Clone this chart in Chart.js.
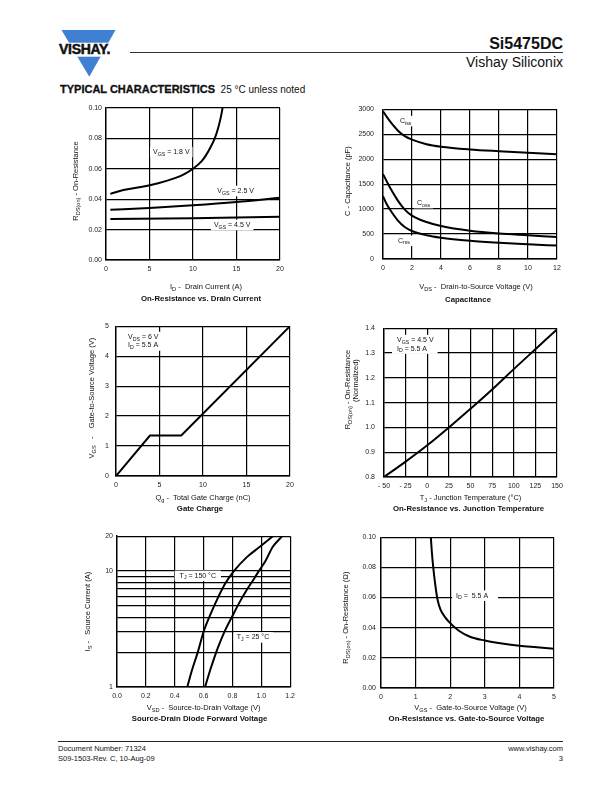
<!DOCTYPE html>
<html>
<head>
<meta charset="utf-8">
<script src="https://cdn.jsdelivr.net/npm/chart.js@4"></script>
<style>
  body { margin: 0; background: #fff; width: 612px; height: 792px; position: relative; overflow: hidden;
         font-family: "Liberation Sans", Arial, Helvetica, sans-serif; color: #111; }
  .abs { position: absolute; white-space: nowrap; }
  canvas { position: absolute; }
</style>
</head>
<body>

<!-- page header -->
<svg class="abs" style="left:55px;top:28px" width="70" height="52">
  <polygon points="6.5,2 60.5,2 34.3,48.7" fill="#3f80d3"/>
  <rect x="0" y="14.7" width="70" height="14" fill="#fff"/>
</svg>
<div class="abs" style="left:59px;top:41px;font:bold 14px 'Liberation Sans',Arial;letter-spacing:-0.3px;-webkit-text-stroke:0.5px #111;">VISHAY.</div>
<div class="abs" style="right:49px;top:35px;font:bold 16px 'Liberation Sans',Arial;">Si5475DC</div>
<div class="abs" style="left:130px;top:52px;width:433px;height:1px;background:#333;"></div>
<div class="abs" style="right:49px;top:54px;font:14px 'Liberation Sans',Arial;">Vishay Siliconix</div>
<div class="abs" style="left:60px;top:83px;font:10px 'Liberation Sans',Arial;">
  <b style="font-size:11px;-webkit-text-stroke:0.3px #111;">TYPICAL CHARACTERISTICS</b>&nbsp; 25 °C unless noted</div>

<!-- page footer -->
<div class="abs" style="left:58px;top:741px;width:505px;height:1px;background:#222;"></div>
<div class="abs" style="left:58px;top:744px;font:7.5px 'Liberation Sans',Arial;line-height:10px;">Document Number: 71324<br>S09-1503-Rev. C, 10-Aug-09</div>
<div class="abs" style="right:49px;top:744px;font:7.5px 'Liberation Sans',Arial;line-height:10px;text-align:right;">www.vishay.com<br>3</div>

<script>
// ---- On-Resistance vs. Drain Current ----
const idAmps18 = [0.5, 2, 4, 6, 8, 9, 10, 11, 11.5, 12, 12.5, 12.9, 13.2, 13.4];
const rds18    = [0.0435, 0.046, 0.048, 0.0505, 0.054, 0.0565, 0.060, 0.065, 0.069, 0.074, 0.080, 0.087, 0.094, 0.100];
const idAmps25 = [0.5, 5, 10, 15, 20];
const rds25    = [0.033, 0.0342, 0.036, 0.0382, 0.041];
const idAmps45 = [0.5, 10, 20];
const rds45    = [0.027, 0.0275, 0.0285];

// ---- Capacitance ----
const vdsVolts = [0, 0.25, 0.5, 1, 1.5, 2, 3, 4, 6, 8, 10, 12];
const ciss = [2960, 2850, 2750, 2580, 2460, 2390, 2300, 2250, 2195, 2160, 2130, 2100];
const coss = [1700, 1560, 1420, 1180, 990, 870, 740, 660, 565, 510, 475, 440];
const crss = [1260, 1100, 980, 780, 640, 560, 475, 425, 365, 325, 295, 268];

// ---- Gate Charge ----
const qgCharge = [0, 3.9, 7.5, 20];
const vgsGate  = [0, 1.35, 1.35, 5];

// ---- On-Resistance vs. Junction Temperature ----
const tjTemps = [-50, -25, 0, 25, 50, 75, 100, 125, 150];
const rdsNorm = [0.80, 0.862, 0.928, 1.0, 1.075, 1.153, 1.235, 1.315, 1.395];

// ---- Source-Drain Diode Forward Voltage ----
const vsd150 = [0.487, 0.52, 0.56, 0.60, 0.65, 0.70, 0.75, 0.81, 0.90, 0.99, 1.08];
const is150  = [1, 1.4, 2, 3.0, 4.3, 5.9, 7.8, 10, 13.2, 16.2, 20];
const vsd25  = [0.61, 0.65, 0.70, 0.75, 0.80, 0.85, 0.90, 0.95, 0.983, 1.03, 1.08, 1.145];
const is25   = [1, 1.45, 2.2, 3.1, 4.1, 5.4, 6.9, 8.6, 10, 12.3, 16.2, 20];
const isLogTicks = [1, 2, 3, 4, 5, 6, 7, 8, 9, 10, 20];
const isLogLabels = [1, 10, 20];

// ---- On-Resistance vs. Gate-to-Source Voltage ----
const vgsVolts = [1.44, 1.47, 1.51, 1.56, 1.63, 1.72, 1.85, 2.0, 2.25, 2.57, 3.0, 3.5, 4.0, 4.5, 5.0];
const rdsVgs   = [0.10, 0.09, 0.080, 0.07, 0.059, 0.052, 0.047, 0.043, 0.038, 0.034, 0.0315, 0.0295, 0.028, 0.027, 0.026];

const FONT = '"Liberation Sans", Arial, Helvetica, sans-serif';

// text with _{subscript} parts
function parseRich(s) {
  const out = [];
  const re = /_\{([^}]*)\}/g;
  let last = 0, m;
  while ((m = re.exec(s))) {
    if (m.index > last) out.push({ t: s.slice(last, m.index), sub: false });
    out.push({ t: m[1], sub: true });
    last = re.lastIndex;
  }
  if (last < s.length) out.push({ t: s.slice(last), sub: false });
  return out;
}

function richWidth(ctx, s, size, weight) {
  let w = 0;
  for (const g of parseRich(s)) {
    ctx.font = `${weight} ${g.sub ? size * 0.75 : size}px ${FONT}`;
    w += ctx.measureText(g.t).width;
  }
  return w;
}

function drawRich(ctx, s, x, y, o = {}) {
  const size = o.size || 7, weight = o.bold ? 'bold' : 'normal';
  const w = richWidth(ctx, s, size, weight);
  ctx.save();
  ctx.translate(x, y);
  if (o.rotate) ctx.rotate(-Math.PI / 2);
  let cx = o.align === 'left' ? 0 : o.align === 'right' ? -w : -w / 2;
  ctx.fillStyle = '#111';
  ctx.textBaseline = 'middle';
  ctx.textAlign = 'left';
  for (const g of parseRich(s)) {
    ctx.font = `${weight} ${g.sub ? size * 0.75 : size}px ${FONT}`;
    ctx.fillText(g.t, cx, g.sub ? size * 0.3 : 0);
    cx += ctx.measureText(g.t).width;
  }
  ctx.restore();
}

function makeChart(spec) {
  const [bx, by, bw, bh] = spec.box;
  const [al, at, ar, ab] = spec.area;
  const cv = document.createElement('canvas');
  cv.width = bw; cv.height = bh;
  cv.style.left = bx + 'px'; cv.style.top = by + 'px';
  document.body.appendChild(cv);

  const tickFont = { family: FONT, size: 7 };
  const grid = { color: '#000', lineWidth: 1.2, drawTicks: false };
  const border = { color: '#000', width: 1.4 };

  const sheetText = {
    id: 'sheetText',
    beforeDatasetsDraw(chart) {
      const ctx = chart.ctx, xs = chart.scales.x, ys = chart.scales.y;
      const lh = 8.5;
      for (const n of spec.notes) {
        const px = xs.getPixelForValue(n.x), py = ys.getPixelForValue(n.y);
        let w = 0;
        n.lines.forEach(l => { w = Math.max(w, richWidth(ctx, l, 7, 'normal')); });
        const pl = n.padL ?? 3, pr = n.padR ?? 3;
        ctx.fillStyle = '#fff';
        ctx.fillRect(px - pl, py - lh / 2 - 1, w + pl + pr, lh * n.lines.length + 2);
        n.lines.forEach((l, i) => drawRich(ctx, l, px, py + i * lh, { align: 'left' }));
      }
    },
    afterDraw(chart) {
      const ctx = chart.ctx, a = chart.chartArea;
      const cx = (a.left + a.right) / 2, cy = (a.top + a.bottom) / 2;
      drawRich(ctx, spec.xTitle, cx + spec.xTitleDx, a.bottom + spec.xTitleDy, { size: 7.5 });
      drawRich(ctx, spec.caption, cx + spec.captionDx, a.bottom + spec.captionDy, { bold: true, size: 7.8 });
      spec.yTitles.forEach(t => drawRich(ctx, t.text, a.left + t.dx, cy + t.dy, { rotate: true, size: 7.5 }));
    }
  };

  const yScale = {
    type: spec.y.type || 'linear',
    min: spec.y.min, max: spec.y.max,
    grid, border,
    ticks: { stepSize: spec.y.step, font: tickFont, color: '#222', padding: spec.y.pad, autoSkip: false,
             callback: spec.y.fmt },
    afterFit(s) { s.width = al - bx; }
  };
  if (spec.y.tickValues) {
    yScale.afterBuildTicks = s => { s.ticks = spec.y.tickValues.map(v => ({ value: v })); };
  }

  return new Chart(cv.getContext('2d'), {
    type: 'line',
    data: {
      datasets: spec.series.map(sr => ({
        data: sr.xs.map((x, i) => ({ x, y: sr.ys[i] })),
        borderColor: '#000',
        borderWidth: 2,
        pointRadius: 0,
        fill: false,
        tension: 0,
        cubicInterpolationMode: sr.straight ? 'default' : 'monotone'
      }))
    },
    options: {
      responsive: false,
      animation: false,
      devicePixelRatio: 1,
      layout: { padding: { left: 0, top: at - by, right: bx + bw - ar, bottom: 0 } },
      plugins: { legend: { display: false }, tooltip: { enabled: false } },
      scales: {
        x: {
          type: 'linear',
          min: spec.x.min, max: spec.x.max,
          grid, border,
          ticks: { stepSize: spec.x.step, font: tickFont, color: '#222', padding: 5, maxRotation: 0, autoSkip: false,
                   callback: spec.x.fmt },
          afterFit(s) { s.height = by + bh - ab; }
        },
        y: yScale
      }
    },
    plugins: [sheetText]
  });
}

const plain = v => String(v);
const fix1 = v => v.toFixed(1);
const fix2 = v => v.toFixed(2);

makeChart({
  box: [50, 98, 250, 212], area: [106, 108, 280, 260],
  x: { min: 0, max: 20, step: 5, fmt: plain },
  y: { min: 0, max: 0.1, step: 0.02, fmt: fix2, pad: 4 },
  series: [{ xs: idAmps18, ys: rds18 }, { xs: idAmps25, ys: rds25 }, { xs: idAmps45, ys: rds45 }],
  notes: [
    { lines: ['V_{GS} = 1.8 V'], x: 5.4, y: 0.071 },
    { lines: ['V_{GS} = 2.5 V'], x: 12.8, y: 0.0454 },
    { lines: ['V_{GS} = 4.5 V'], x: 12.4, y: 0.023 }
  ],
  xTitle: 'I_{D} -  Drain Current (A)', xTitleDx: 13, xTitleDy: 27,
  caption: 'On-Resistance vs. Drain Current', captionDx: 8, captionDy: 39,
  yTitles: [{ text: 'R_{DS(on)} - On-Resistance', dx: -30, dy: -3 }]
});

makeChart({
  box: [315, 96, 255, 214], area: [383, 107, 557, 259],
  x: { min: 0, max: 12, step: 2, fmt: plain },
  y: { min: 0, max: 3000, step: 500, fmt: plain, pad: 9 },
  series: [{ xs: vdsVolts, ys: ciss }, { xs: vdsVolts, ys: coss }, { xs: vdsVolts, ys: crss }],
  notes: [
    { lines: ['C_{iss}'], x: 1.17, y: 2763 },
    { lines: ['C_{oss}'], x: 2.34, y: 1119 },
    { lines: ['C_{rss}'], x: 1.03, y: 364 }
  ],
  xTitle: 'V_{DS} -  Drain-to-Source Voltage (V)', xTitleDx: 6, xTitleDy: 28,
  caption: 'Capacitance', captionDx: -2, captionDy: 41,
  yTitles: [{ text: 'C - Capacitance (pF)', dx: -35, dy: -3 }]
});

makeChart({
  box: [55, 315, 245, 210], area: [116, 325, 290, 476],
  x: { min: 0, max: 20, step: 5, fmt: plain },
  y: { min: 0, max: 5, step: 1, fmt: plain, pad: 7 },
  series: [{ xs: qgCharge, ys: vgsGate, straight: true }],
  notes: [{ lines: ['V_{DS} = 6 V', 'I_{D} = 5.5 A'], x: 1.38, y: 4.64, padL: 4, padR: 5 }],
  xTitle: 'Q_{g} -  Total Gate Charge (nC)', xTitleDx: 0, xTitleDy: 22,
  caption: 'Gate Charge', captionDx: -3, captionDy: 33,
  yTitles: [{ text: 'V_{GS}   -    Gate-to-Source Voltage (V)', dx: -24, dy: -3 }]
});

makeChart({
  box: [315, 315, 255, 210], area: [384, 326, 557, 477],
  x: { min: -50, max: 150, step: 25, fmt: v => (v < 0 ? '- ' + (-v) : String(v)) },
  y: { min: 0.8, max: 1.4, step: 0.1, fmt: fix1, pad: 9 },
  series: [{ xs: tjTemps, ys: rdsNorm }],
  notes: [{ lines: ['V_{GS} = 4.5 V', 'I_{D} = 5.5 A'], x: -35, y: 1.352, padL: 5, padR: 4 }],
  xTitle: 'T_{J} - Junction Temperature (°C)', xTitleDx: 0, xTitleDy: 21,
  caption: 'On-Resistance vs. Junction Temperature', captionDx: -2, captionDy: 32,
  yTitles: [
    { text: 'R_{DS(on)} - On-Resistance', dx: -36, dy: -13 },
    { text: '(Normalized)', dx: -28, dy: -22 }
  ]
});

makeChart({
  box: [55, 528, 245, 200], area: [117, 536, 291, 687],
  x: { min: 0, max: 1.2, step: 0.2, fmt: fix1 },
  y: { type: 'logarithmic', min: 1, max: 20, tickValues: isLogTicks, pad: 4,
       fmt: v => (isLogLabels.includes(v) ? String(v) : '') },
  series: [{ xs: vsd150, ys: is150 }, { xs: vsd25, ys: is25 }],
  notes: [
    { lines: ['T_{J} = 150 °C'], x: 0.434, y: 9.1, padL: 5, padR: 5 },
    { lines: ['T_{J} = 25 °C'], x: 0.83, y: 2.68, padL: 3, padR: 4 }
  ],
  xTitle: 'V_{SD} -  Source-to-Drain Voltage (V)', xTitleDx: 0, xTitleDy: 21,
  caption: 'Source-Drain Diode Forward Voltage', captionDx: -4, captionDy: 32,
  yTitles: [{ text: 'I_{S} -   Source Current (A)', dx: -29, dy: 0 }]
});

makeChart({
  box: [315, 528, 255, 200], area: [381, 536, 554, 688],
  x: { min: 0, max: 5, step: 1, fmt: plain },
  y: { min: 0, max: 0.1, step: 0.02, fmt: fix2, pad: 5 },
  series: [{ xs: vgsVolts, ys: rdsVgs }],
  notes: [{ lines: ['I_{D} =  5.5 A'], x: 2.17, y: 0.0612, padL: 4, padR: 10 }],
  xTitle: 'V_{GS} -  Gate-to-Source Voltage (V)', xTitleDx: 3, xTitleDy: 20,
  caption: 'On-Resistance vs. Gate-to-Source Voltage', captionDx: -1, captionDy: 31,
  yTitles: [{ text: 'R_{DS(on)} - On-Resistance (Ω)', dx: -35, dy: 5 }]
});
</script>
</body>
</html>
